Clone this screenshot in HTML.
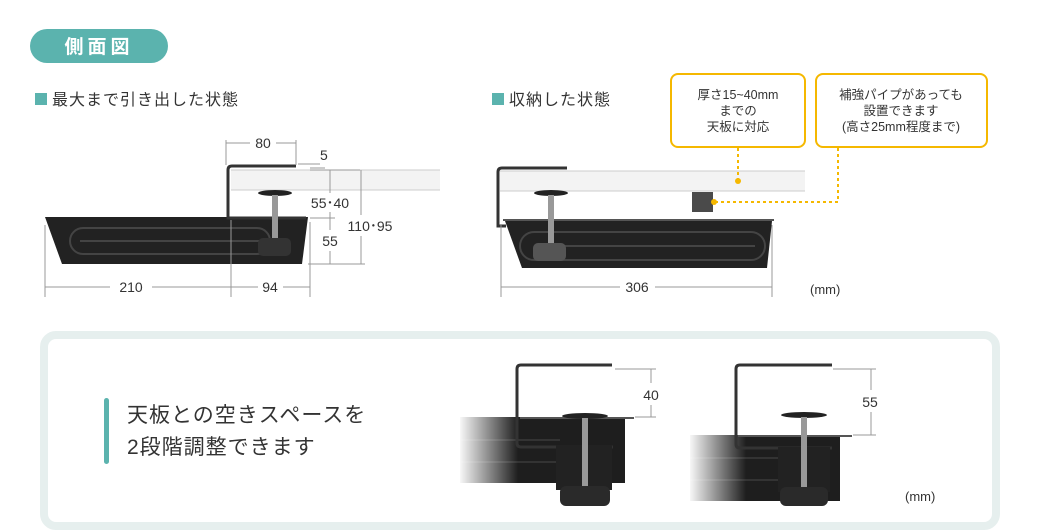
<!DOCTYPE html>
<html><head><meta charset="utf-8"><style>
body{margin:0;background:#fff;}
svg{display:block;font-family:"Liberation Sans","Noto Sans CJK JP",sans-serif;}
</style></head><body>
<svg width="1045" height="531" viewBox="0 0 1045 531" xmlns="http://www.w3.org/2000/svg">
<defs>
<linearGradient id="fade" x1="0" x2="1" y1="0" y2="0">
<stop offset="0" stop-color="#fff" stop-opacity="1"/><stop offset="1" stop-color="#fff" stop-opacity="0"/>
</linearGradient>
</defs>
<!-- header pill -->
<rect x="30" y="29" width="138" height="34" rx="17" fill="#5bb3ae"/>
<text x="99" y="53" text-anchor="middle" font-size="19" font-weight="bold" fill="#fff" letter-spacing="4">側面図</text>
<rect x="35" y="93" width="12" height="12" fill="#5bb3ae"/>
<text x="52" y="105" font-size="16" fill="#333" letter-spacing="1">最大まで引き出した状態</text>
<rect x="492" y="93" width="12" height="12" fill="#5bb3ae"/>
<text x="509" y="105" font-size="16" fill="#333" letter-spacing="1">収納した状態</text>

<!-- callouts -->
<rect x="671" y="74" width="134" height="73" rx="7" fill="#fff" stroke="#f5b800" stroke-width="2"/>
<text x="738" y="99" text-anchor="middle" font-size="12.5" fill="#333">厚さ15~40mm</text>
<text x="738" y="115" text-anchor="middle" font-size="12.5" fill="#333">までの</text>
<text x="738" y="131" text-anchor="middle" font-size="12.5" fill="#333">天板に対応</text>
<rect x="816" y="74" width="171" height="73" rx="7" fill="#fff" stroke="#f5b800" stroke-width="2"/>
<text x="901" y="99" text-anchor="middle" font-size="12.5" fill="#333">補強パイプがあっても</text>
<text x="901" y="115" text-anchor="middle" font-size="12.5" fill="#333">設置できます</text>
<text x="901" y="131" text-anchor="middle" font-size="12.5" fill="#333">(高さ25mm程度まで)</text>

<!-- LEFT DIAGRAM -->
<rect x="231" y="170" width="209" height="20" fill="#f3f3f3"/>
<line x1="231" y1="170" x2="440" y2="170" stroke="#ccc"/>
<line x1="231" y1="190" x2="440" y2="190" stroke="#ccc"/>
<path d="M45 217 L308 217 L302 264 L62 264 Z" fill="#222"/>
<rect x="70" y="228" width="200" height="26" rx="13" fill="none" stroke="#444" stroke-width="2"/>
<line x1="80" y1="241" x2="260" y2="241" stroke="#444" stroke-width="2"/>
<path d="M296 166 L232 166 Q228 166 228 170 L228 218 L306 218" fill="none" stroke="#333" stroke-width="3"/>
<ellipse cx="275" cy="193" rx="17" ry="3" fill="#222"/>
<rect x="272" y="195" width="6" height="60" fill="#999"/>
<rect x="258" y="238" width="33" height="18" rx="5" fill="#333"/>
<g stroke="#999" stroke-width="1" fill="none">
<line x1="226" y1="140" x2="226" y2="165"/><line x1="296" y1="140" x2="296" y2="165"/>
<line x1="226" y1="143" x2="250" y2="143"/><line x1="276" y1="143" x2="296" y2="143"/>
<line x1="298" y1="164" x2="320" y2="164"/><line x1="310" y1="168" x2="325" y2="168"/>
<line x1="310" y1="170" x2="360" y2="170"/><line x1="310" y1="218" x2="335" y2="218"/>
<line x1="308" y1="264" x2="365" y2="264"/>
<line x1="330" y1="170" x2="330" y2="193"/><line x1="330" y1="212" x2="330" y2="230"/><line x1="330" y1="251" x2="330" y2="264"/>
<line x1="361" y1="170" x2="361" y2="215"/><line x1="361" y1="236" x2="361" y2="264"/>
<line x1="45" y1="225" x2="45" y2="297"/><line x1="231" y1="220" x2="231" y2="297"/><line x1="310" y1="222" x2="310" y2="297"/>
<line x1="45" y1="287" x2="110" y2="287"/><line x1="152" y1="287" x2="231" y2="287"/>
<line x1="231" y1="287" x2="258" y2="287"/><line x1="283" y1="287" x2="310" y2="287"/>
</g>
<g font-size="14" fill="#333">
<text x="263" y="148" text-anchor="middle">80</text>
<text x="320" y="160">5</text>
<text x="330" y="208" text-anchor="middle">55･40</text>
<text x="370" y="231" text-anchor="middle">110･95</text>
<text x="330" y="246" text-anchor="middle">55</text>
<text x="131" y="292" text-anchor="middle">210</text>
<text x="270" y="292" text-anchor="middle">94</text>
</g>

<!-- RIGHT DIAGRAM -->
<rect x="500" y="171" width="305" height="20" fill="#f3f3f3"/>
<line x1="500" y1="171" x2="805" y2="171" stroke="#ccc"/>
<line x1="500" y1="191" x2="805" y2="191" stroke="#ccc"/>
<path d="M505 221 L772 221 L767 268 L522 268 Z" fill="#222"/>
<rect x="520" y="232" width="245" height="28" rx="14" fill="none" stroke="#444" stroke-width="2"/>
<line x1="540" y1="246" x2="755" y2="246" stroke="#444" stroke-width="2"/>
<path d="M567 168 L502 168 Q498 168 498 172 L498 226 L506 226" fill="none" stroke="#333" stroke-width="3"/>
<line x1="503" y1="220" x2="774" y2="220" stroke="#555" stroke-width="2"/>
<ellipse cx="551" cy="193" rx="17" ry="3" fill="#222"/>
<rect x="548" y="195" width="6" height="60" fill="#999"/>
<rect x="533" y="243" width="33" height="18" rx="5" fill="#555"/>
<rect x="692" y="192" width="21" height="20" fill="#4a4a4a"/>
<g stroke="#f5b800" stroke-width="2" stroke-dasharray="3,3" fill="none">
<line x1="738" y1="148" x2="738" y2="181"/>
<polyline points="838,148 838,202 713,202"/>
</g>
<circle cx="738" cy="181" r="3" fill="#f5b800"/>
<circle cx="714" cy="202" r="3" fill="#f5b800"/>
<g stroke="#999" fill="none">
<line x1="501" y1="225" x2="501" y2="297"/><line x1="772" y1="225" x2="772" y2="297"/>
<line x1="501" y1="287" x2="620" y2="287"/><line x1="655" y1="287" x2="772" y2="287"/>
</g>
<text x="637" y="292" text-anchor="middle" font-size="14" fill="#333">306</text>
<text x="810" y="294" font-size="13" fill="#333">(mm)</text>

<!-- BOTTOM PANEL -->
<rect x="44" y="335" width="952" height="191" rx="12" fill="#fff" stroke="#e6efee" stroke-width="8"/>
<rect x="104" y="398" width="5" height="66" rx="2.5" fill="#5bb3ae"/>
<text x="127" y="422" font-size="21" fill="#333" letter-spacing="1">天板との空きスペースを</text>
<text x="127" y="454" font-size="21" fill="#333" letter-spacing="1">2段階調整できます</text>

<!-- bottom image 1 -->
<rect x="460" y="417" width="165" height="66" fill="#1e1e1e"/>
<line x1="460" y1="440" x2="560" y2="440" stroke="#333" stroke-width="2"/>
<line x1="460" y1="462" x2="560" y2="462" stroke="#333" stroke-width="2"/>
<rect x="458" y="415" width="60" height="70" fill="url(#fade)"/>
<line x1="520" y1="418" x2="634" y2="418" stroke="#555" stroke-width="2"/>
<path d="M612 365 L521 365 Q517 365 517 369 L517 443 Q517 447 521 447 L613 447" fill="none" stroke="#333" stroke-width="3"/>
<rect x="556" y="445" width="56" height="45" fill="#222"/>
<ellipse cx="585" cy="416" rx="23" ry="3" fill="#222"/>
<rect x="582" y="418" width="6" height="70" fill="#999"/>
<rect x="560" y="486" width="50" height="20" rx="6" fill="#2a2a2a"/>
<g stroke="#999" fill="none"><line x1="615" y1="369" x2="656" y2="369"/><line x1="635" y1="417" x2="656" y2="417"/><line x1="651" y1="369" x2="651" y2="383"/><line x1="651" y1="405" x2="651" y2="417"/></g>
<text x="651" y="400" text-anchor="middle" font-size="14" fill="#333">40</text>

<!-- bottom image 2 -->
<rect x="690" y="435" width="150" height="66" fill="#1e1e1e"/>
<line x1="690" y1="458" x2="780" y2="458" stroke="#333" stroke-width="2"/>
<line x1="690" y1="480" x2="780" y2="480" stroke="#333" stroke-width="2"/>
<rect x="688" y="433" width="58" height="70" fill="url(#fade)"/>
<line x1="738" y1="436" x2="852" y2="436" stroke="#555" stroke-width="2"/>
<path d="M832 365 L740 365 Q736 365 736 369 L736 444 Q736 448 740 448 L832 448" fill="none" stroke="#333" stroke-width="3"/>
<rect x="778" y="447" width="52" height="45" fill="#222"/>
<ellipse cx="804" cy="415" rx="23" ry="3" fill="#222"/>
<rect x="801" y="417" width="6" height="72" fill="#999"/>
<rect x="780" y="487" width="48" height="19" rx="6" fill="#2a2a2a"/>
<g stroke="#999" fill="none"><line x1="833" y1="369" x2="876" y2="369"/><line x1="853" y1="435" x2="876" y2="435"/><line x1="871" y1="369" x2="871" y2="390"/><line x1="871" y1="412" x2="871" y2="435"/></g>
<text x="870" y="407" text-anchor="middle" font-size="14" fill="#333">55</text>
<text x="905" y="501" font-size="13" fill="#333">(mm)</text>
</svg>
</body></html>
